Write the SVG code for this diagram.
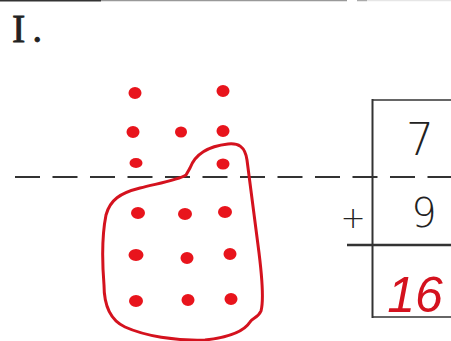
<svg xmlns="http://www.w3.org/2000/svg" width="451" height="341" viewBox="0 0 451 341">
<style>
.dot{fill:#e8141c;}
.num{font-family:"DejaVu Sans","Liberation Sans",sans-serif;font-weight:200;fill:#222;}
.ln{stroke:#333;fill:none;}
</style>
<rect width="451" height="341" fill="#fff"/>
<g id="topline">
<line x1="0" y1="0.5" x2="101" y2="0.5" stroke="#333" stroke-width="2"/>
<line x1="101" y1="0.5" x2="347" y2="0.5" stroke="#999" stroke-width="1.5"/>
<line x1="357" y1="0.5" x2="367" y2="0.5" stroke="#aaa" stroke-width="1.5"/>
<line x1="367" y1="0.5" x2="451" y2="0.5" stroke="#e6e6e6" stroke-width="1.5"/>
</g>
<g id="label">
<text x="12" y="42" font-family="Liberation Serif,serif" font-size="40" letter-spacing="7" fill="#222" stroke="#222" stroke-width="0.8">I.</text>
</g>
<g id="dashed">
<line class="ln" x1="15" y1="177" x2="451" y2="177" stroke-width="2" stroke-dasharray="25 12.5" stroke="#444"/>
</g>
<g id="dots">
<ellipse class="dot" cx="135" cy="93" rx="6.5" ry="6"/>
<ellipse class="dot" cx="223" cy="91" rx="6.5" ry="6"/>
<ellipse class="dot" cx="133" cy="132" rx="6.5" ry="6"/>
<ellipse class="dot" cx="181" cy="132" rx="6" ry="5.5"/>
<ellipse class="dot" cx="223" cy="131" rx="6.5" ry="6"/>
<ellipse class="dot" cx="136" cy="163" rx="6.5" ry="5"/>
<ellipse class="dot" cx="223" cy="164" rx="6.5" ry="5.5"/>
<ellipse class="dot" cx="138" cy="213" rx="7" ry="6"/>
<ellipse class="dot" cx="185" cy="214" rx="7" ry="6"/>
<ellipse class="dot" cx="225" cy="212" rx="7" ry="6"/>
<ellipse class="dot" cx="136" cy="255" rx="7.5" ry="6"/>
<ellipse class="dot" cx="187" cy="258" rx="6.5" ry="6"/>
<ellipse class="dot" cx="230" cy="254" rx="6.5" ry="6"/>
<ellipse class="dot" cx="136" cy="301" rx="7" ry="6"/>
<ellipse class="dot" cx="188" cy="300" rx="6.5" ry="6"/>
<ellipse class="dot" cx="231" cy="299" rx="6.5" ry="6"/>
</g>
<g id="blob">
<path d="M190,168 C196,152 210,146 228,144 C238,143 245,146 247,160 C250,185 254,215 258,245 C262,275 264,300 261,311 C258,318 252,318 250,322 C245,330 232,337 205,340 C175,341 145,336 125,327 C110,320 104,305 104,285 C102,260 102,235 106,215 C110,200 120,193 140,188 C160,183 178,180 186,175 Z" fill="none" stroke="#d4121e" stroke-width="3" stroke-linejoin="round"/>
</g>
<g id="box">
<line class="ln" x1="372.5" y1="99" x2="372.5" y2="318" stroke-width="2"/>
<line class="ln" x1="372" y1="100" x2="451" y2="100" stroke-width="1.5"/>
<line class="ln" x1="372" y1="317" x2="451" y2="317" stroke-width="1.5"/>
<line class="ln" x1="347" y1="245" x2="451" y2="245" stroke-width="2.5" stroke="#222"/>
</g>
<g id="numbers">
<text class="num" x="420" y="155" font-size="44" text-anchor="middle">7</text>
<text class="num" x="424" y="227" font-size="40" text-anchor="middle">9</text>
<text class="num" x="353" y="228" font-size="30" text-anchor="middle" font-weight="400">+</text>
<text x="415" y="312" font-family="Liberation Sans,Arial,sans-serif" font-size="50" font-style="italic" text-anchor="middle" fill="#d4121e">16</text>
</g>
</svg>
